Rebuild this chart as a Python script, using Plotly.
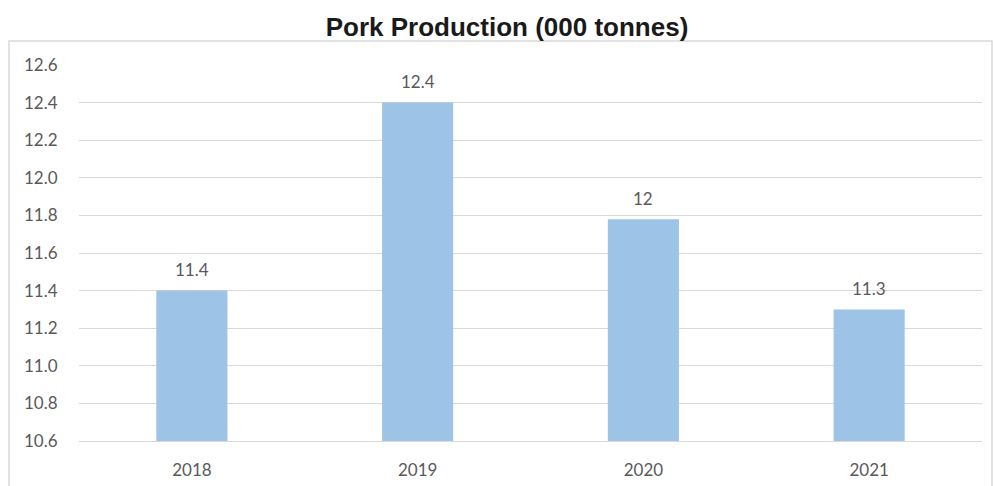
import plotly.graph_objects as go

years = ["2018", "2019", "2020", "2021"]
values = [11.4, 12.4, 11.78, 11.3]
labels = ["11.4", "12.4", "12", "11.3"]
yticks = [10.6, 10.8, 11.0, 11.2, 11.4, 11.6, 11.8, 12.0, 12.2, 12.4, 12.6]

W, H = 993, 486
L, R, T, B = 79, 11, 65, 45
pw, ph = W - L - R, H - T - B
FONT = "Lato, Open Sans, sans-serif"
pos = list(range(len(years)))

fig = go.Figure()
fig.add_trace(go.Bar(x=pos, y=values, width=0.315,
                     marker=dict(color="#9DC3E6", line=dict(width=0)),
                     hoverinfo="skip"))

for p, v, t in zip(pos, values, labels):
    fig.add_annotation(x=p, y=v, xref="x", yref="y", text=t, showarrow=False, yshift=21,
                       font=dict(family=FONT, size=17, color="#595959"))

fig.add_shape(type="rect", xref="paper", yref="paper",
              x0=(9 - L) / pw, x1=(992 - L) / pw, y0=-0.3, y1=1 + (T - 41) / ph,
              line=dict(color="#d9d9d9", width=1.5), layer="below")

fig.update_layout(
    width=W, height=H,
    margin=dict(l=L, r=R, t=T, b=B, autoexpand=False),
    paper_bgcolor="white", plot_bgcolor="white",
    showlegend=False,
    title=dict(text="<b>Pork Production (000 tonnes)</b>", x=507 / W, xanchor="center",
               y=1 - 27 / H, yanchor="middle", yref="container", automargin=False,
               font=dict(family="Liberation Sans, Arial, sans-serif", size=26, color="#1a1a1a")),
    xaxis=dict(range=[-0.5, 3.5], tickvals=pos, ticktext=years, automargin=False,
               showgrid=False, showline=True, linecolor="#d9d9d9", linewidth=1, zeroline=False,
               ticks="outside", ticklen=14, tickcolor="rgba(0,0,0,0)",
               tickfont=dict(family=FONT, size=17, color="#595959")),
    yaxis=dict(range=[10.6, 12.6], tickvals=yticks, tickformat=".1f", automargin=False,
               showgrid=True, gridcolor="#d9d9d9", gridwidth=1, zeroline=False, showline=False,
               ticks="outside", ticklen=17, tickcolor="rgba(0,0,0,0)",
               tickfont=dict(family=FONT, size=17, color="#595959")),
)

fig.write_html("out.html")
